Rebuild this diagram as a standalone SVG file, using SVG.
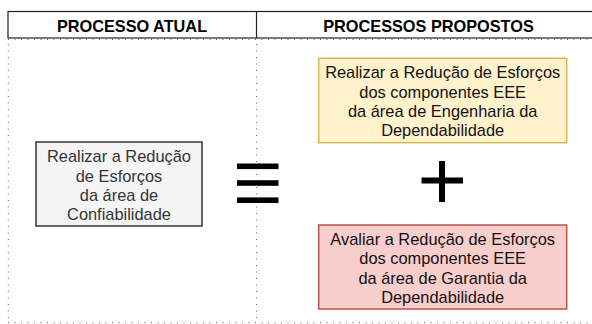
<svg xmlns="http://www.w3.org/2000/svg" width="592" height="324" viewBox="0 0 592 324">
<style>
.hdr{font-family:"Liberation Sans",Arial,sans-serif;font-weight:bold;font-size:16.3px;fill:#000;text-anchor:middle}
.t{font-family:"Liberation Sans",Arial,sans-serif;font-size:16.4px;fill:#111;text-anchor:middle}
.g{fill:#333}
.dot{stroke:#666;stroke-width:1;stroke-dasharray:1 5.5;fill:none}
.bar{fill:#000}
</style>
<rect width="592" height="324" fill="#fff"/>
<g id="header">
<rect x="8" y="11.5" width="600" height="26.5" fill="#fff" stroke="#222" stroke-width="1.2"/>
<line x1="256.5" y1="11.5" x2="256.5" y2="38" stroke="#222" stroke-width="1.2"/>
<text class="hdr" x="132" y="31.5">PROCESSO ATUAL</text>
<text class="hdr" x="428.5" y="31.5">PROCESSOS PROPOSTOS</text>
</g>
<g id="grid">
<line class="dot" x1="8" y1="39.5" x2="592" y2="39.5"/>
<line class="dot" x1="8.3" y1="44" x2="8.3" y2="320"/>
<line class="dot" x1="256.5" y1="44" x2="256.5" y2="320"/>
<line class="dot" x1="8" y1="322.7" x2="592" y2="322.7"/>
</g>
<g id="atual">
<rect x="36" y="142" width="166" height="84" fill="#f5f5f5" stroke="#333" stroke-width="1.5"/>
<text class="t g" x="119" y="162.3">Realizar a Redução</text>
<text class="t g" x="119" y="181.7">de Esforços</text>
<text class="t g" x="119" y="200.8">da área de</text>
<text class="t g" x="119" y="220">Confiabilidade</text>
</g>
<g id="equal">
<rect class="bar" x="237" y="163.5" width="41.5" height="5.6"/>
<rect class="bar" x="237" y="180.2" width="41.5" height="5.6"/>
<rect class="bar" x="237" y="197.4" width="41.5" height="5.6"/>
</g>
<g id="engenharia">
<rect x="318.7" y="58.3" width="248" height="84.4" fill="#fff2cc" stroke="#d6b656" stroke-width="1.5"/>
<text class="t" x="442.7" y="78">Realizar a Redução de Esforços</text>
<text class="t" x="442.7" y="97.5">dos componentes EEE</text>
<text class="t" x="442.7" y="117">da área de Engenharia da</text>
<text class="t" x="442.7" y="136">Dependabilidade</text>
</g>
<g id="plus">
<rect class="bar" x="439" y="161" width="6" height="41"/>
<rect class="bar" x="421.5" y="177.5" width="41.5" height="6"/>
</g>
<g id="garantia">
<rect x="318.7" y="225" width="248" height="84" fill="#f8cecc" stroke="#b85450" stroke-width="1.5"/>
<text class="t" x="442.7" y="244.5">Avaliar a Redução de Esforços</text>
<text class="t" x="442.7" y="264">dos componentes EEE</text>
<text class="t" x="442.7" y="283.5">da área de Garantia da</text>
<text class="t" x="442.7" y="303">Dependabilidade</text>
</g>
</svg>
